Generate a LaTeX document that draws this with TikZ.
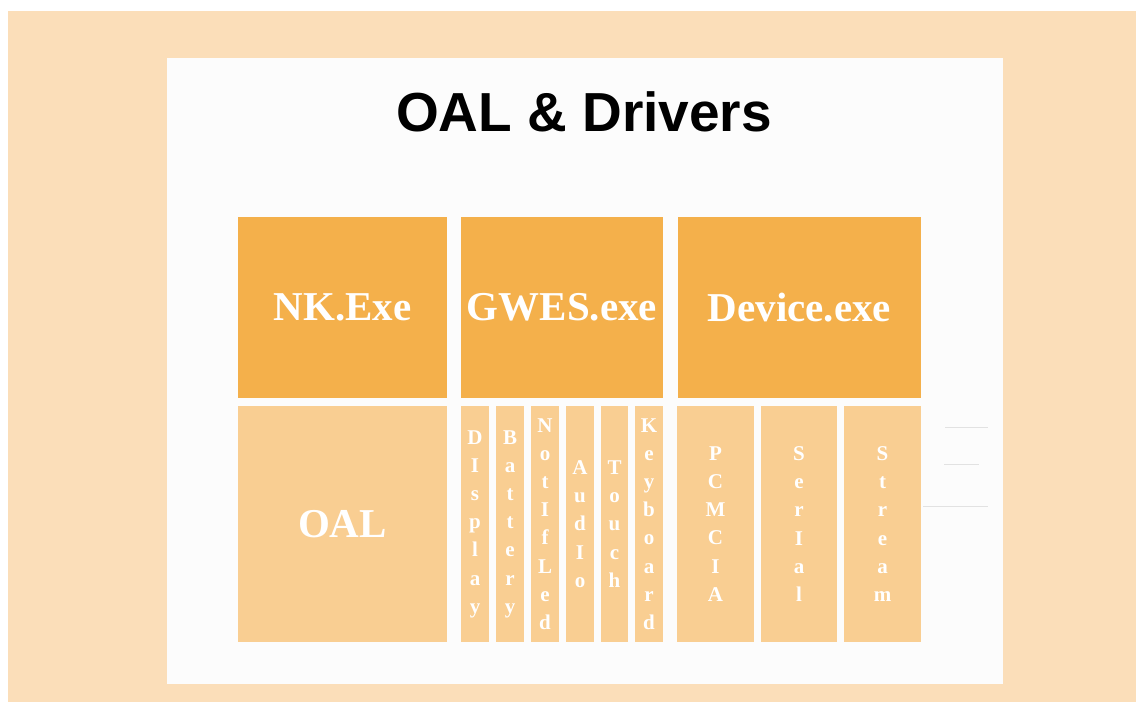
\documentclass[tikz,border=0pt]{standalone}
\usepackage{fontspec}
\setmainfont{Liberation Serif}
\newfontfamily\headfont{Liberation Sans}
\definecolor{peach}{HTML}{FBDEB9}
\definecolor{panel}{HTML}{FCFCFC}
\definecolor{darkor}{HTML}{F4B04B}
\definecolor{lightor}{HTML}{F9CE92}
\definecolor{ghost}{HTML}{E2E2E2}
\tikzset{
  block/.style={draw=none, inner sep=0pt, outer sep=0pt, anchor=north west,
    text=white, font=\fontsize{41}{41}\selectfont\bfseries},
  upper/.style={block, fill=darkor, minimum height=181pt},
  lower/.style={block, fill=lightor, minimum height=236pt},
  slim/.style={lower, align=center, font=\fontsize{21}{28.2}\selectfont\bfseries},
  heading/.style={anchor=base, inner sep=0pt, font=\headfont\fontsize{55}{55}\selectfont\bfseries}
}
\begin{document}
\begin{tikzpicture}[x=1pt,y=-1pt]
\useasboundingbox (0,0) rectangle (1136,702);
\fill[white] (0,0) rectangle (1136,702);
\fill[peach] (8,11) rectangle (1136,702);
\fill[panel] (167,58) rectangle (1003,684);

% faint rules on the slide background
\draw[ghost, line width=1pt] (945,427) -- (988,427);
\draw[ghost, line width=1pt] (944,464) -- (979,464);
\draw[ghost, line width=1pt] (923,506) -- (988,506);

\node[heading] (title) at (584,131) {OAL \& Drivers};

% processes
\node[upper, minimum width=209pt] (nk) at (238,217) {NK.Exe};
\node[upper, minimum width=202pt] (gwes) at (461,217) {GWES.exe};
\node[upper, minimum width=243pt] (device) at (678,217) {Device.exe};

% layer below NK
\node[lower, minimum width=209pt] (oal) at (238,406) {OAL};

% GWES drivers
\node[slim, minimum width=28pt] (display) at (461,406) {D\\I\\s\\p\\l\\a\\y};
\node[slim, minimum width=28pt] (battery) at (496,406) {B\\a\\t\\t\\e\\r\\y};
\node[slim, minimum width=28pt] (notifled) at (531,406) {N\\o\\t\\I\\f\\L\\e\\d};
\node[slim, minimum width=28pt] (audio) at (566,406) {A\\u\\d\\I\\o};
\node[slim, minimum width=27pt] (touch) at (601,406) {T\\o\\u\\c\\h};
\node[slim, minimum width=28pt] (keyboard) at (635,406) {K\\e\\y\\b\\o\\a\\r\\d};

% Device drivers
\node[slim, minimum width=77pt] (pcmcia) at (677,406) {P\\C\\M\\C\\I\\A};
\node[slim, minimum width=76pt] (serial) at (761,406) {S\\e\\r\\I\\a\\l};
\node[slim, minimum width=77pt] (stream) at (844,406) {S\\t\\r\\e\\a\\m};
\end{tikzpicture}
\end{document}
